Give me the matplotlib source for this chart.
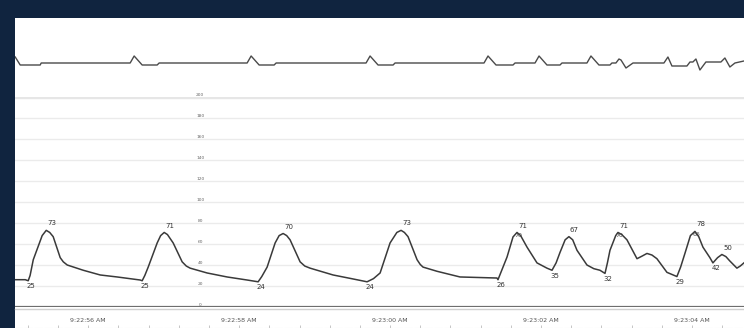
import matplotlib
matplotlib.use("Agg")
import matplotlib.pyplot as plt
from matplotlib.ticker import MultipleLocator

# time in seconds after 9:22:00
t_min, t_max = 55.03, 64.69

# ECG trace (arbitrary mV units, baseline 0)
ecg_t = [55.033, 55.099, 55.364, 55.377,
         56.556, 56.609, 56.715, 56.914, 56.940,
         58.106, 58.159, 58.265, 58.464, 58.490,
         59.682, 59.735, 59.841, 60.040, 60.066,
         61.245, 61.298, 61.404, 61.629, 61.656,
         61.921, 61.974, 62.079, 62.252, 62.278,
         62.609, 62.662, 62.768, 62.914, 62.940,
         62.993, 63.033, 63.060, 63.126, 63.219,
         63.629, 63.682, 63.735, 63.934, 63.974,
         64.013, 64.053, 64.106, 64.185,
         64.384, 64.437, 64.503, 64.570, 64.689]
ecg_v = [0.75, -0.25, -0.25, 0.0,
         0.0, 0.875, -0.25, -0.25, 0.0,
         0.0, 0.875, -0.25, -0.25, 0.0,
         0.0, 0.875, -0.25, -0.25, 0.0,
         0.0, 0.875, -0.25, -0.25, 0.0,
         0.0, 0.875, -0.25, -0.25, 0.0,
         0.0, 0.875, -0.25, -0.25, 0.0,
         0.0, 0.5, 0.375, -0.625, 0.0,
         0.0, 0.75, -0.375, -0.375, 0.125,
         0.125, 0.5, -0.875, 0.125,
         0.125, 0.625, -0.5, 0.0, 0.25]

# arterial pressure (mmHg)
bp_t = [55.033, 55.166, 55.205, 55.23, 55.272, 55.39, 55.444, 55.49, 55.536, 55.629, 55.67, 55.722,
        55.934, 56.159, 56.384, 56.689, 56.715,
        56.75, 56.795, 56.914, 56.96, 57.007, 57.05, 57.126, 57.245, 57.30, 57.351,
        57.576, 57.841, 58.106, 58.252,
        58.30, 58.371, 58.477, 58.53, 58.583, 58.63, 58.675, 58.808, 58.87, 58.940,
        59.245, 59.510, 59.695,
        59.78, 59.868, 60.000, 60.09, 60.146, 60.19, 60.238, 60.358, 60.40, 60.437,
        60.623, 60.927, 61.417, 61.430,
        61.48, 61.550, 61.629, 61.682, 61.73, 61.815, 61.947, 62.079, 62.146,
        62.20, 62.252, 62.320, 62.370, 62.42, 62.477, 62.609, 62.70, 62.781, 62.848,
        62.88, 62.914, 62.990, 63.020, 63.07, 63.139, 63.272, 63.34, 63.404, 63.47, 63.536,
        63.669, 63.801,
        63.85, 63.907, 63.980, 64.040, 64.09, 64.146, 64.238, 64.278, 64.34, 64.397, 64.45,
        64.500, 64.596, 64.64, 64.689]
bp_v = [26, 26, 25, 30, 45, 68, 73, 71, 67, 47, 43, 40,
        35, 30.5, 28.6, 25.7, 25,
        30, 38, 61, 68, 71, 69, 61, 43, 39, 37,
        32.4, 28.6, 25.7, 24,
        29, 38, 61, 68, 70, 68, 64, 43, 39, 37,
        30.5, 26.7, 24,
        27, 32.4, 61, 71, 73, 71, 67, 45, 40.5, 38,
        34, 28.6, 27.6, 26,
        35, 47.6, 66.7, 71, 68, 57, 42, 37, 35,
        42, 52, 64, 67, 64, 54, 40, 36.5, 35, 32,
        42, 54, 68, 71, 69, 64, 46, 48.5, 51, 49.5, 46,
        33, 29,
        38, 51, 68, 72, 67, 57, 47, 42, 47, 50, 48,
        44, 37, 39, 42]

# value labels: (time, value, text)
peak_labels = [(55.444, 73, "73"), (57.007, 71, "71"), (58.583, 70, "70"),
               (60.146, 73, "73"), (61.682, 71, "71"), (62.370, 67, "67"),
               (63.020, 71, "71"), (64.040, 72, "78"), (64.397, 50, "50")]
trough_labels = [(55.205, 25, "25"), (56.715, 25, "25"), (58.252, 24, "24"),
                 (59.695, 24, "24"), (61.430, 26, "26"), (62.146, 35, "35"),
                 (62.848, 32, "32"), (63.801, 29, "29"), (64.278, 42, "42")]
inner_labels = [(61.682, 71, "70"), (63.020, 71, "70"), (64.040, 72, "66")]

y_ticks = list(range(0, 201, 20))
x_ticks = [56, 58, 60, 62, 64]
x_labels = ["9:22:56 AM", "9:22:58 AM", "9:23:00 AM", "9:23:02 AM", "9:23:04 AM"]

navy = "#10243f"
fig = plt.figure(figsize=(7.44, 3.28), dpi=100, facecolor=navy)

# white panel
bg = fig.add_axes([15 / 744, 0, 1 - 15 / 744, 310 / 328])
bg.set_facecolor("white")
bg.set_xticks([])
bg.set_yticks([])
for s in bg.spines.values():
    s.set_visible(False)

left = 15 / 744
width = 1 - left

# pressure panel
ax = fig.add_axes([left, 21 / 328, width, 210 / 328])
ax.patch.set_alpha(0)
ax.set_xlim(t_min, t_max)
ax.set_ylim(0, 200)
for s in ax.spines.values():
    s.set_visible(False)
ax.set_xticks([])
ax.set_yticks([])
for v in y_ticks[1:-1]:
    ax.axhline(v, color="#ebebeb", lw=1.0, zorder=0)
ax.axhline(200, color="#e6e6e6", lw=2.4, zorder=0)
ax.axhline(0, color="#6e6e6e", lw=1.6, zorder=1)
ax.axhline(-1.6, color="#d0d0d0", lw=1.0, zorder=1, clip_on=False)
for v in y_ticks:
    ax.text(0.254, v + 2, str(v), transform=ax.get_yaxis_transform(),
            fontsize=3.2, color="#666666", ha="center", va="center")
ax.plot(bp_t, bp_v, color="#3a3a3a", lw=1.1, zorder=3)
for t, v, s in peak_labels:
    ax.annotate(s, (t, v), xytext=(4, 5), textcoords="offset points",
                fontsize=5, color="#333333", ha="center", va="center")
for t, v, s in trough_labels:
    ax.annotate(s, (t, v), xytext=(2, -4), textcoords="offset points",
                fontsize=5, color="#333333", ha="center", va="center")
for t, v, s in inner_labels:
    ax.annotate(s, (t, v), xytext=(1, -2), textcoords="offset points",
                fontsize=4.5, color="#444444", ha="center", va="center")

# ECG panel
ax_ecg = fig.add_axes([left, 249 / 328, width, 32 / 328])
ax_ecg.patch.set_alpha(0)
ax_ecg.set_xlim(t_min, t_max)
ax_ecg.set_ylim(-2, 2)
ax_ecg.axis("off")
ax_ecg.plot(ecg_t, ecg_v, color="#4a4a4a", lw=1.0)

# time axis at bottom
ax_t = fig.add_axes([left, 0, width, 16 / 328])
ax_t.patch.set_alpha(0)
ax_t.set_xlim(t_min, t_max)
ax_t.set_ylim(0, 1)
for k in ["top", "left", "right"]:
    ax_t.spines[k].set_visible(False)
ax_t.spines["bottom"].set_color("#dddddd")
ax_t.spines["bottom"].set_linestyle((0, (6, 3)))
ax_t.set_yticks([])
ax_t.set_xticks(x_ticks)
ax_t.set_xticklabels([])
ax_t.xaxis.set_minor_locator(MultipleLocator(0.4))
ax_t.tick_params(axis="x", which="both", direction="in", length=2.5,
                 color="#bbbbbb", width=0.6)
for t, s in zip(x_ticks, x_labels):
    ax_t.text(t, 0.45, s, fontsize=4.5, color="#555555", ha="center", va="center")

fig.savefig("out.png", dpi=100, facecolor=navy)
